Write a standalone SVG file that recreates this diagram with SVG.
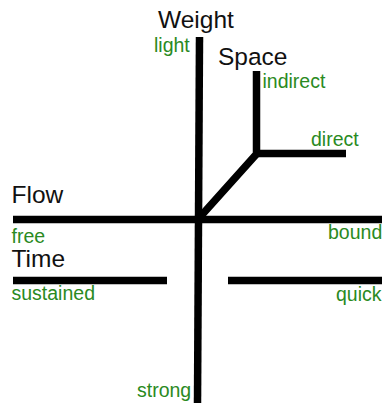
<svg xmlns="http://www.w3.org/2000/svg" width="382" height="405" viewBox="0 0 382 405">
<style>
.axis{stroke:#000;stroke-width:7.5;fill:none;stroke-linejoin:miter}
.title{font-family:"Liberation Sans",Arial,sans-serif;font-size:24.5px;fill:#111}
.lab{font-family:"Liberation Sans",Arial,sans-serif;font-size:19.5px;fill:#2a8a22}
</style>
<rect width="382" height="405" fill="#fff"/>
<g id="connectors">
<line class="axis" x1="199.5" y1="37" x2="197.5" y2="403"/>
<line class="axis" x1="13" y1="219.5" x2="382" y2="219.5"/>
<line class="axis" x1="13" y1="280.5" x2="167" y2="280.5"/>
<line class="axis" x1="228" y1="280.5" x2="382" y2="280.5"/>
<polyline class="axis" points="256.5,71 256.5,154 200,217"/>
<line class="axis" x1="256.5" y1="153.5" x2="346" y2="153.5"/>
</g>
<g id="weight"><text class="title" x="158" y="28">Weight</text></g>
<g id="space"><text class="title" x="218" y="65">Space</text></g>
<g id="flow"><text class="title" x="11.5" y="203">Flow</text></g>
<g id="time"><text class="title" x="11.5" y="267">Time</text></g>
<g id="light"><text class="lab" x="154" y="52">light</text></g>
<g id="indirect"><text class="lab" x="262.5" y="88">indirect</text></g>
<g id="direct"><text class="lab" x="311" y="146">direct</text></g>
<g id="free"><text class="lab" x="11.5" y="243">free</text></g>
<g id="bound"><text class="lab" x="328" y="238.5">bound</text></g>
<g id="sustained"><text class="lab" x="11.5" y="300">sustained</text></g>
<g id="quick"><text class="lab" x="336" y="300.5">quick</text></g>
<g id="strong"><text class="lab" x="137" y="397">strong</text></g>
</svg>
